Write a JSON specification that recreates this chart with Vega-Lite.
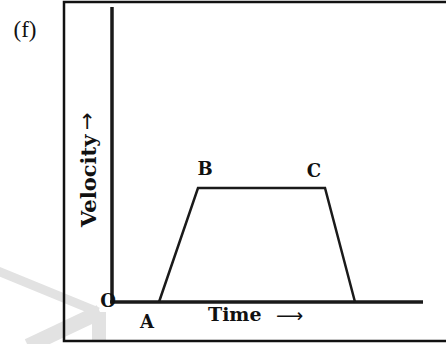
{
  "$schema": "https://vega.github.io/schema/vega-lite/v6.json",
  "width": 446,
  "height": 344,
  "padding": 0,
  "autosize": {"type": "fit", "contains": "padding"},
  "background": "white",
  "config": {"view": {"stroke": null}},
  "datasets": {
    "frame": [{"t0": -4.8, "t1": 36, "v0": -3.9, "v1": 30}],
    "watermark": [
      {"seg": "a", "t": -11.4, "v": 3.1, "w": 9},
      {"seg": "a", "t": -1.4, "v": -1.0, "w": 9},
      {"seg": "b", "t": -8.4, "v": -4.4, "w": 15},
      {"seg": "b", "t": -1.2, "v": -1.0, "w": 15}
    ],
    "wmblock": [{"t0": -2.0, "t1": -0.6, "v0": -1.0, "v1": -3.9}],
    "axes": [
      {"t0": 0, "t1": 0, "v0": 0, "v1": 29.5},
      {"t0": -0.2, "t1": 31.1, "v0": 0, "v1": 0}
    ],
    "motion": [
      {"t": 4.7, "v": 0, "point": "A"},
      {"t": 8.6, "v": 11.4, "point": "B"},
      {"t": 21.3, "v": 11.4, "point": "C"},
      {"t": 24.3, "v": 0, "point": "D"}
    ],
    "labels": [
      {"t": 9.3, "v": 13.2, "label": "B"},
      {"t": 20.2, "v": 13.0, "label": "C"},
      {"t": 3.5, "v": -2.1, "label": "A"},
      {"t": -0.4, "v": 0, "label": "O"}
    ]
  },
  "layer": [
    {
      "data": {"name": "watermark"},
      "mark": {"type": "line", "stroke": "#e2e2e2", "strokeCap": "butt", "clip": true},
      "encoding": {
        "x": {"field": "t", "type": "quantitative", "scale": {"domain": [-11.2, 33.4], "nice": false, "zero": false}, "axis": null},
        "y": {"field": "v", "type": "quantitative", "scale": {"domain": [-4.2, 30.2], "nice": false, "zero": false}, "axis": null},
        "detail": {"field": "seg"},
        "strokeWidth": {"field": "w", "type": "quantitative", "scale": null}
      }
    },
    {
      "data": {"name": "wmblock"},
      "mark": {"type": "rect", "fill": "#e2e2e2", "clip": true},
      "encoding": {
        "x": {"field": "t0", "type": "quantitative"},
        "x2": {"field": "t1"},
        "y": {"field": "v0", "type": "quantitative"},
        "y2": {"field": "v1"}
      }
    },
    {
      "data": {"name": "frame"},
      "mark": {"type": "rect", "fill": null, "stroke": "#111", "strokeWidth": 2.5, "clip": true},
      "encoding": {
        "x": {"field": "t0", "type": "quantitative"},
        "x2": {"field": "t1"},
        "y": {"field": "v0", "type": "quantitative"},
        "y2": {"field": "v1"}
      }
    },
    {
      "data": {"name": "axes"},
      "mark": {"type": "rule", "stroke": "#1a1a1a", "strokeWidth": 3.5},
      "encoding": {
        "x": {"field": "t0", "type": "quantitative"},
        "x2": {"field": "t1"},
        "y": {"field": "v0", "type": "quantitative"},
        "y2": {"field": "v1"}
      }
    },
    {
      "data": {"name": "motion"},
      "mark": {"type": "line", "stroke": "#1a1a1a", "strokeWidth": 2.5, "strokeJoin": "miter"},
      "encoding": {
        "x": {"field": "t", "type": "quantitative"},
        "y": {"field": "v", "type": "quantitative"},
        "order": {"field": "t"}
      }
    },
    {
      "data": {"name": "labels"},
      "mark": {"type": "text", "font": "DejaVu Serif", "fontWeight": "bold", "fontSize": 18, "fill": "#111", "baseline": "middle", "align": "center"},
      "encoding": {
        "x": {"field": "t", "type": "quantitative"},
        "y": {"field": "v", "type": "quantitative"},
        "text": {"field": "label"}
      }
    },
    {
      "data": {"values": [{"t": 9.6, "v": -1.3, "label": "Time"}]},
      "mark": {"type": "text", "font": "DejaVu Serif", "fontWeight": "bold", "fontSize": 19, "fill": "#111", "baseline": "middle", "align": "left"},
      "encoding": {
        "x": {"field": "t", "type": "quantitative"},
        "y": {"field": "v", "type": "quantitative"},
        "text": {"field": "label"}
      }
    },
    {
      "data": {"values": [{"t": 16.4, "v": -1.4, "label": "⟶"}]},
      "mark": {"type": "text", "font": "DejaVu Sans", "fontSize": 19, "fill": "#111", "baseline": "middle", "align": "left"},
      "encoding": {
        "x": {"field": "t", "type": "quantitative"},
        "y": {"field": "v", "type": "quantitative"},
        "text": {"field": "label"}
      }
    },
    {
      "data": {"values": [{"t": -2.2, "v": 7.5, "label": "Velocity"}]},
      "mark": {"type": "text", "font": "DejaVu Serif", "fontWeight": "bold", "fontSize": 21, "angle": 270, "fill": "#111", "baseline": "middle", "align": "left"},
      "encoding": {
        "x": {"field": "t", "type": "quantitative"},
        "y": {"field": "v", "type": "quantitative"},
        "text": {"field": "label"}
      }
    },
    {
      "data": {"values": [{"t": -2.4, "v": 17.2, "label": "→"}]},
      "mark": {"type": "text", "font": "DejaVu Sans", "fontSize": 21, "angle": 270, "fill": "#111", "baseline": "middle", "align": "left"},
      "encoding": {
        "x": {"field": "t", "type": "quantitative"},
        "y": {"field": "v", "type": "quantitative"},
        "text": {"field": "label"}
      }
    },
    {
      "data": {"values": [{"t": -8.7, "v": 27.2, "label": "(f)"}]},
      "mark": {"type": "text", "font": "Liberation Serif", "fontSize": 23, "fill": "#111", "baseline": "middle", "align": "center"},
      "encoding": {
        "x": {"field": "t", "type": "quantitative"},
        "y": {"field": "v", "type": "quantitative"},
        "text": {"field": "label"}
      }
    }
  ]
}
